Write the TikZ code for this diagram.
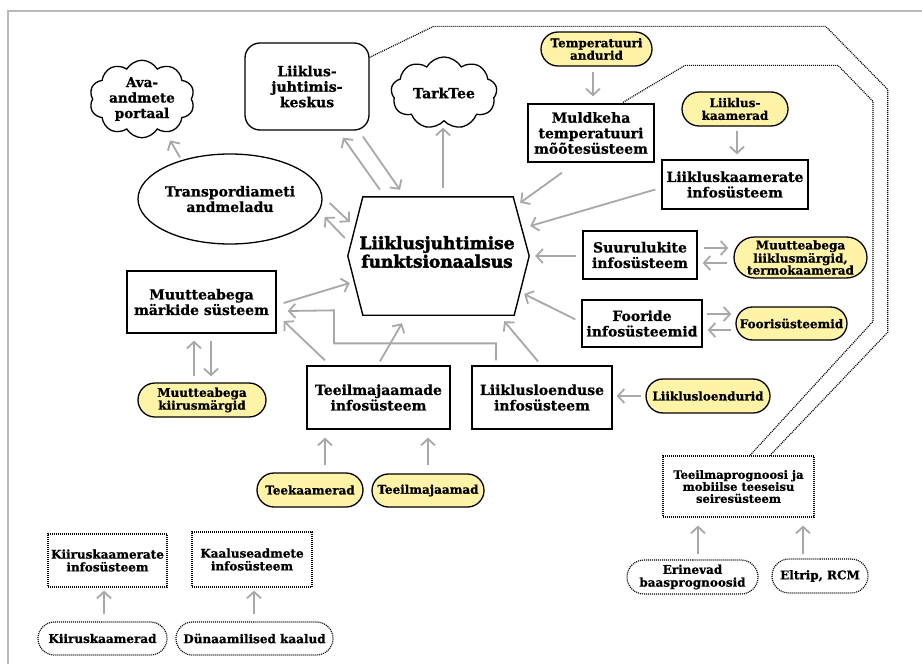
\documentclass[tikz,border=0pt]{standalone}
\usepackage{fontspec}
\setmainfont{DejaVu Serif}[BoldFeatures={FakeBold=0.8}]
\newfontfamily\heavyfont{DejaVu Serif Bold}[FakeBold=2.4]
\usetikzlibrary{arrows.meta,shapes.misc,shapes.symbols,shapes.geometric,calc}
\definecolor{pillyellow}{RGB}{255,243,168}
\definecolor{arrgray}{RGB}{168,168,168}
\definecolor{framegray}{RGB}{185,185,185}
\newcommand\fntmain{\fontsize{14}{15.5}\selectfont\bfseries}
\newcommand\fntsmall{\fontsize{12}{12.8}\selectfont\bfseries}
\newcommand\fnttitle{\fontsize{17}{18.5}\selectfont\heavyfont}
\tikzset{
  box/.style={draw, line width=1.3pt, inner sep=0pt, align=center, font=\fntmain},
  pill/.style={rounded rectangle, draw, fill=pillyellow, line width=1.3pt, inner sep=0pt, align=center, font=\fntsmall},
  dbox/.style={draw, line width=1.2pt, dash pattern=on 1pt off 1pt, inner sep=0pt, align=center, font=\fntsmall},
  dpill/.style={rounded rectangle, draw, line width=1.2pt, dash pattern=on 1pt off 1pt, inner sep=0pt, align=center, font=\fntsmall},
  dline/.style={draw, line width=1.2pt, dash pattern=on 1pt off 1pt},
  cloudbox/.style={cloud, draw, line width=1.3pt, inner sep=0pt, align=center, font=\fntmain, cloud puff arc=120},
  arr/.style={draw=arrgray, line width=1.8pt, -{Straight Barb[length=6.5pt,width=14pt]}},
}
\begin{document}
\begin{tikzpicture}[x=1pt,y=-1pt]
\useasboundingbox (0,0) rectangle (922,664);
\fill[white] (0,0) rectangle (922,664);
\draw[framegray, line width=1.5pt] (8,670) -- (8,11) -- (930,11);

% nodes
\node[cloudbox, cloud puffs=10, aspect=1.45, minimum width=105pt, minimum height=72pt, font=\fontsize{13.5}{15.5}\selectfont\bfseries] (ava) at (142,99) {Ava-\\andmete\\portaal};
\node[box, rounded corners=15pt, minimum width=124pt, minimum height=87pt] (lk) at (307,86.5) {Liiklus-\\juhtimis-\\keskus};
\node[cloudbox, cloud puffs=9, aspect=1.5, minimum width=106pt, minimum height=70pt] (tark) at (444,93) {TarkTee};
\node[box, ellipse, minimum width=150pt, minimum height=90pt] (tjs) at (230,199) {Transpordiameti\\andmeladu};
\node[pill, minimum width=111pt, minimum height=34pt, font=\fontsize{12}{12.5}\selectfont\bfseries] (ta) at (596.5,49) {Temperatuuri\\andurid};
\node[box, minimum width=126pt, minimum height=58pt] (mk) at (591,133) {Muldkeha\\temperatuuri\\mõõtesüsteem};
\node[pill, minimum width=106pt, minimum height=34pt] (lkam) at (735,109) {Liiklus-\\kaamerad};
\node[box, minimum width=146pt, minimum height=49pt] (lkis) at (735,184.5) {Liikluskaamerate\\infosüsteem};

\node[minimum width=181pt, minimum height=118pt, inner sep=0pt] (hex) at (438.5,256) {};
\draw[line width=1.4pt] ([xshift=15pt]hex.north west) -- ([xshift=-16pt]hex.north east) -- (hex.east)
  -- ([xshift=-15pt]hex.south east) -- ([xshift=15pt]hex.south west) -- (hex.west) -- cycle;
\node[align=center, font=\fnttitle, inner sep=0pt] (hextxt) at (437,252) {Liiklusjuhtimise\\funktsionaalsus};

\node[box, minimum width=114pt, minimum height=48pt] (suur) at (640,255) {Suurulukite\\infosüsteem};
\node[pill, minimum width=133pt, minimum height=41pt, font=\fontsize{12}{12}\selectfont\bfseries] (mlt) at (800.5,257.5) {Muutteabega\\liiklusmärgid,\\termokaamerad};
\node[box, minimum width=120pt, minimum height=47pt] (foor) at (642,323.5) {Fooride\\infosüsteemid};
\node[pill, minimum width=111pt, minimum height=33pt] (foors) at (791.5,323.5) {Foorisüsteemid};
\node[box, minimum width=140pt, minimum height=63pt] (llis) at (542,397.5) {Liiklusloenduse\\infosüsteem};
\node[pill, minimum width=124pt, minimum height=34pt] (llend) at (708,396) {Liiklusloendurid};
\node[box, minimum width=143pt, minimum height=63pt] (tjis) at (378.5,397.5) {Teeilmajaamade\\infosüsteem};
\node[box, minimum width=149pt, minimum height=62pt] (mms) at (201.5,302) {Muutteabega\\märkide süsteem};
\node[pill, minimum width=128pt, minimum height=34pt] (mkm) at (202,400) {Muutteabega\\kiirusmärgid};
\node[pill, minimum width=106pt, minimum height=34pt] (tkam) at (310,490) {Teekaamerad};
\node[pill, minimum width=112pt, minimum height=33pt] (tjaam) at (428,490.5) {Teeilmajaamad};

\node[dbox, minimum width=119pt, minimum height=53pt] (kis) at (107.5,560.5) {Kiiruskaamerate\\infosüsteem};
\node[dbox, minimum width=120pt, minimum height=55pt] (kais) at (252,559.5) {Kaaluseadmete\\infosüsteem};
\node[dpill, minimum width=129pt, minimum height=33pt] (kkam) at (102.5,638.5) {Kiiruskaamerad};
\node[dpill, minimum width=157pt, minimum height=33pt] (dk) at (254.5,638.5) {Dünaamilised kaalud};
\node[dbox, minimum width=151pt, minimum height=61pt, font=\fontsize{11.5}{12}\selectfont\bfseries] (tps) at (738.5,486.5) {Teeilmaprognoosi ja\\mobiilse teeseisu\\seiresüsteem};
\node[dpill, minimum width=131pt, minimum height=34pt] (eb) at (692.5,577) {Erinevad\\baasprognoosid};
\node[dpill, minimum width=96pt, minimum height=34pt] (elt) at (820,576) {Eltrip, RCM};

% dotted connections
\draw[dline] ($(lk.north east)+(0,15)$) -- ++(64,-31) -- ++(392,0) -- ++(62,63) -- ++(0,243) -- ($(tps.north)+(31.5,0)$);
\draw[dline] ($(mk.north)+(32,-1)$) -- ++(62,-37) -- ++(153,0) -- ++(35,36) -- ++(0,220) -- ($(tps.north)+(11.5,0)$);

% arrows
\draw[arr] ($(tjs.north)+(-50,4)$) -- ($(ava.south)+(28,2)$);
\draw[arr] ($(hex.north)+(-58.5,-7)$) -- ($(lk.south)+(36,7)$);
\draw[arr] ($(lk.south)+(56,6)$) -- ($(hex.north)+(-38.5,-7)$);
\draw[arr] ($(hex.north)+(4.5,-9)$) -- ($(tark.south)+(-1,6)$);
\draw[arr] ($(tjs.east)+(7,4)$) -- ($(hex.west)+(2,-34)$);
\draw[arr] ($(hex.west)+(-3,-18)$) -- ($(tjs.east)+(2,18)$);
\draw[arr] ($(mk.south)+(-29,10)$) -- ($(hex.north east)+(-9,6)$);
\draw[arr] ($(lkis.west)+(-6,5)$) -- ($(hex.east)+(1,-30)$);
\draw[arr] ($(suur.west)+(-6,1)$) -- ($(hex.east)+(6,0)$);
\draw[arr] ($(foor.west)+(-6,-4)$) -- ($(hex.east)+(-5,38)$);
\draw[arr] ($(llis.north)+(-4,-4)$) -- ($(hex.south east)+(-25,6)$);
\draw[arr] ($(tjis.north)+(1.5,-4)$) -- ($(hex.south)+(-36.5,8)$);
\draw[arr] ($(mms.east)+(7,1)$) -- ($(hex.west)+(2,27)$);
\draw[arr] ($(llis.north)+(-46,-5)$) -- ++(0,-17) -- ++(-162,0) -- ++(0,-33) -- ($(mms.east)+(11,9)$);
\draw[arr] ($(tjis.north)+(-53.5,-5)$) -- ($(mms.east)+(7,19)$);
\draw[arr] ($(mkm.north)+(-8,-6)$) -- ($(mms.south)+(-7.5,7)$);
\draw[arr] ($(mms.south)+(9.5,7)$) -- ($(mkm.north)+(9,-6)$);
\draw[arr] ($(ta.south)+(-3.5,5)$) -- ($(mk.north)+(2,-7)$);
\draw[arr] ($(lkam.south)+(2,4)$) -- ($(lkis.north)+(2,-5)$);
\draw[arr] ($(suur.east)+(6,-7)$) -- ($(mlt.west)+(-5,-9.5)$);
\draw[arr] ($(mlt.west)+(-6,5.5)$) -- ($(suur.east)+(5,8)$);
\draw[arr] ($(foor.east)+(4,-9.5)$) -- ($(foors.west)+(-4,-9.5)$);
\draw[arr] ($(foors.west)+(-4,6.5)$) -- ($(foor.east)+(5,6.5)$);
\draw[arr] ($(llend.west)+(-4,0)$) -- ($(llis.east)+(4,-1.5)$);
\draw[arr] ($(tkam.north)+(15,-7)$) -- ($(tjis.south)+(-53.5,8)$);
\draw[arr] ($(tjaam.north)+(0,-8)$) -- ($(tjis.south)+(49.5,8)$);
\draw[arr] ($(kkam.north)+(1.5,-7)$) -- ($(kis.south)+(-3.5,3)$);
\draw[arr] ($(dk.north)+(-0.5,-7)$) -- ($(kais.south)+(2,3)$);
\draw[arr] ($(eb.north)+(5.5,-5)$) -- ($(tps.south)+(-40.5,8)$);
\draw[arr] ($(elt.north)+(-17,-4)$) -- ($(tps.south)+(64.5,8)$);
\end{tikzpicture}
\end{document}
